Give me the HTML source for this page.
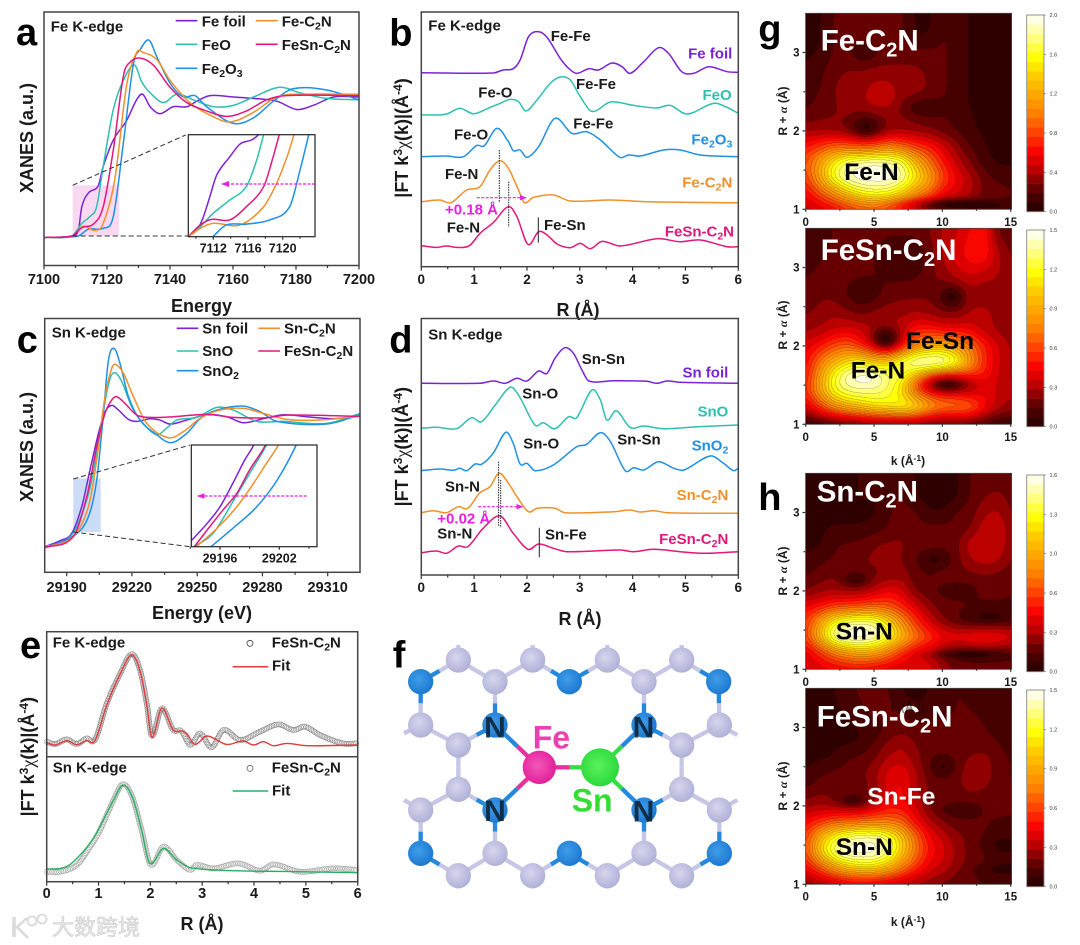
<!DOCTYPE html>
<html lang="en">
<head>
<meta charset="utf-8">
<title>XANES and EXAFS figure</title>
<style>
html,body{margin:0;padding:0;background:#fff;}
#root{position:relative;width:1080px;height:945px;overflow:hidden;background:#fff;filter:blur(.3px);}
canvas{position:absolute;display:block;}
svg{position:absolute;left:0;top:0;}
text{font-family:"Liberation Sans","Noto Sans CJK SC",sans-serif;font-weight:bold;fill:#1a1a1a;}
.tick{font-size:14.5px;text-anchor:middle;}
.ttl{font-size:18px;}
.lab{font-size:15px;}
.pl{font-size:38px;fill:#000;}
.mt{font-size:12px;}
.wt{font-size:29.5px;fill:#fff;}
.bt{font-size:24.5px;fill:#000;}
.cb{font-size:5.5px;font-weight:normal;fill:#333;}
</style>
</head>
<body>
<div id="root">
<canvas id="map-g1" width="412" height="392" style="left:805.5px;top:13.3px;width:206px;height:196px"></canvas>
<canvas id="map-g2" width="412" height="392" style="left:805.5px;top:228.3px;width:206px;height:196px"></canvas>
<canvas id="map-h1" width="412" height="392" style="left:805.5px;top:473.3px;width:206px;height:196px"></canvas>
<canvas id="map-h2" width="412" height="392" style="left:805.5px;top:688.3px;width:206px;height:196px"></canvas>

<svg id="fig" width="1080" height="945" viewBox="0 0 1080 945" xmlns="http://www.w3.org/2000/svg">
<defs>
<clipPath id="clip-a"><rect x="44" y="12" width="315" height="253.5"/></clipPath>
<clipPath id="clip-ai"><rect x="188.3" y="134.7" width="126.7" height="102"/></clipPath>
<clipPath id="clip-c"><rect x="44.7" y="318.5" width="315.3" height="253.8"/></clipPath>
<clipPath id="clip-ci"><rect x="191.3" y="445" width="125.7" height="101.7"/></clipPath>
<radialGradient id="g-c" cx=".42" cy=".4" r=".65"><stop offset="0" stop-color="#d6d6ee"/><stop offset="1" stop-color="#adaed6"/></radialGradient>
<radialGradient id="g-b" cx=".42" cy=".4" r=".65"><stop offset="0" stop-color="#3f9de8"/><stop offset="1" stop-color="#1a76cf"/></radialGradient>
<radialGradient id="g-f" cx=".45" cy=".45" r=".6"><stop offset="0" stop-color="#f458bb"/><stop offset="1" stop-color="#e01c98"/></radialGradient>
<radialGradient id="g-s" cx=".45" cy=".45" r=".6"><stop offset="0" stop-color="#5cf25c"/><stop offset="1" stop-color="#27d63a"/></radialGradient>
</defs>

<!-- Panel a -->
<g>
<rect x="72.7" y="185.3" width="46.3" height="50.7" fill="#f9d9f1"/>
<g id="a-curves" clip-path="url(#clip-a)"></g>
<line x1="72.7" y1="185.3" x2="185.7" y2="135" stroke="#333" stroke-width="1" stroke-dasharray="5 3"/>
<line x1="72.7" y1="236" x2="188" y2="236" stroke="#333" stroke-width="1" stroke-dasharray="5 3"/>
<rect x="44" y="12" width="315" height="253.5" fill="none" stroke="#444" stroke-width="1.5"/>
<g id="a-ticks"></g>
<text x="50.7" y="31.7" class="lab">Fe K-edge</text>
<text x="201.5" y="312" class="ttl" text-anchor="middle">Energy</text>
<text transform="translate(33 138) rotate(-90)" class="ttl" text-anchor="middle">XANES (a.u.)</text>
<g>
<line x1="175.7" x2="197.3" y1="20.7" y2="20.7" stroke="#7b22d8" stroke-width="1.6"/>
<text x="201.7" y="26.7" class="lab">Fe foil</text>
<line x1="255.7" x2="277.7" y1="20.7" y2="20.7" stroke="#f0902a" stroke-width="1.6"/>
<text x="281.7" y="26.7" class="lab">Fe-C<tspan dy="3" font-size="10.5">2</tspan><tspan dy="-3">N</tspan></text>
<line x1="175.7" x2="197.3" y1="44.3" y2="44.3" stroke="#2fbfb0" stroke-width="1.6"/>
<text x="201.7" y="50" class="lab">FeO</text>
<line x1="255.7" x2="277.7" y1="44.3" y2="44.3" stroke="#e0187c" stroke-width="1.6"/>
<text x="281.7" y="50" class="lab">FeSn-C<tspan dy="3" font-size="10.5">2</tspan><tspan dy="-3">N</tspan></text>
<line x1="175.7" x2="197.3" y1="68.3" y2="68.3" stroke="#1e90e6" stroke-width="1.6"/>
<text x="201.7" y="74" class="lab">Fe<tspan dy="3" font-size="10.5">2</tspan><tspan dy="-3">O</tspan><tspan dy="3" font-size="10.5">3</tspan></text>
</g>
<rect x="188.3" y="134.7" width="126.7" height="102" fill="#fff"/>
<g id="ai-curves" clip-path="url(#clip-ai)"></g>
<rect x="188.3" y="134.7" width="126.7" height="102" fill="none" stroke="#222" stroke-width="1.2"/>
<g id="ai-ticks"></g>
<line x1="315" y1="184" x2="226" y2="184" stroke="#e820e0" stroke-width="1.2" stroke-dasharray="3 1.5"/>
<polygon points="221,184 229,181 229,187" fill="#e820e0"/>
</g>

<!-- Panel b -->
<g>
<g id="b-curves"></g>
<rect x="421.3" y="12" width="317" height="254.7" fill="none" stroke="#444" stroke-width="1.5"/>
<g id="b-ticks"></g>
<text x="428.3" y="30.7" class="lab">Fe K-edge</text>
<text x="578" y="316" class="ttl" text-anchor="middle">R (Å)</text>
<text transform="translate(408 138) rotate(-90)" class="ttl" text-anchor="middle">|FT k<tspan dy="-6" font-size="12">3</tspan><tspan dy="6" font-family="Liberation Serif" font-weight="normal">χ</tspan>(k)|(Å<tspan dy="-6" font-size="12">-4</tspan><tspan dy="6">)</tspan></text>
<text x="550.7" y="41" class="lab">Fe-Fe</text>
<text x="732.3" y="58.7" class="lab" text-anchor="end" style="fill:#7b22d8">Fe foil</text>
<text x="576" y="89" class="lab">Fe-Fe</text>
<text x="478.3" y="97.3" class="lab">Fe-O</text>
<text x="731.7" y="100" class="lab" text-anchor="end" style="fill:#2fbfb0">FeO</text>
<text x="573.3" y="128.3" class="lab">Fe-Fe</text>
<text x="454" y="139.3" class="lab">Fe-O</text>
<text x="732.3" y="144.3" class="lab" text-anchor="end" style="fill:#1e90e6">Fe<tspan dy="3" font-size="10.5" style="fill:#1e90e6">2</tspan><tspan dy="-3" style="fill:#1e90e6">O</tspan><tspan dy="3" font-size="10.5" style="fill:#1e90e6">3</tspan></text>
<text x="445" y="179" class="lab">Fe-N</text>
<text x="732.3" y="187.7" class="lab" text-anchor="end" style="fill:#f0902a">Fe-C<tspan dy="3" font-size="10.5" style="fill:#f0902a">2</tspan><tspan dy="-3" style="fill:#f0902a">N</tspan></text>
<text x="445" y="214.7" class="lab" style="fill:#e820e0">+0.18 Å</text>
<text x="446.7" y="232.7" class="lab">Fe-N</text>
<text x="544" y="230" class="lab">Fe-Sn</text>
<text x="734" y="236.7" class="lab" text-anchor="end" style="fill:#e0187c">FeSn-C<tspan dy="3" font-size="10.5" style="fill:#e0187c">2</tspan><tspan dy="-3" style="fill:#e0187c">N</tspan></text>
<line x1="499.3" x2="499.3" y1="150" y2="202.7" stroke="#222" stroke-width="1" stroke-dasharray="1.5 1"/>
<line x1="508.7" x2="508.7" y1="181.7" y2="227.3" stroke="#222" stroke-width="1" stroke-dasharray="1.5 1"/>
<line x1="538.3" x2="538.3" y1="217.3" y2="242.7" stroke="#222" stroke-width="1"/>
<line x1="476.7" x2="523" y1="197.7" y2="197.7" stroke="#e820e0" stroke-width="1.2" stroke-dasharray="3 1.5"/>
<polygon points="527,197.7 520,195 520,200.4" fill="#e820e0"/>
</g>

<!-- Panel c -->
<g>
<rect x="73.3" y="478.3" width="27.4" height="53.7" fill="#cbdcf8"/>
<g id="c-curves" clip-path="url(#clip-c)"></g>
<line x1="73.3" y1="479" x2="190" y2="445" stroke="#333" stroke-width="1" stroke-dasharray="5 3"/>
<line x1="73.3" y1="532" x2="190" y2="546.7" stroke="#333" stroke-width="1" stroke-dasharray="5 3"/>
<rect x="44.7" y="318.5" width="315.3" height="253.8" fill="none" stroke="#444" stroke-width="1.5"/>
<g id="c-ticks"></g>
<text x="51.7" y="337.3" class="lab">Sn K-edge</text>
<text x="202" y="619" class="ttl" text-anchor="middle">Energy (eV)</text>
<text transform="translate(33 447) rotate(-90)" class="ttl" text-anchor="middle">XANES (a.u.)</text>
<g>
<line x1="176.7" x2="198.3" y1="328.3" y2="328.3" stroke="#7b22d8" stroke-width="1.6"/>
<text x="202.3" y="333.3" class="lab">Sn foil</text>
<line x1="258.3" x2="280" y1="328.3" y2="328.3" stroke="#f0902a" stroke-width="1.6"/>
<text x="284" y="333.3" class="lab">Sn-C<tspan dy="3" font-size="10.5">2</tspan><tspan dy="-3">N</tspan></text>
<line x1="176.7" x2="198.3" y1="351" y2="351" stroke="#2fbfb0" stroke-width="1.6"/>
<text x="202.3" y="356" class="lab">SnO</text>
<line x1="258.3" x2="280" y1="351" y2="351" stroke="#e0187c" stroke-width="1.6"/>
<text x="284" y="356" class="lab">FeSn-C<tspan dy="3" font-size="10.5">2</tspan><tspan dy="-3">N</tspan></text>
<line x1="176.7" x2="198.3" y1="370.7" y2="370.7" stroke="#1e90e6" stroke-width="1.6"/>
<text x="202.3" y="376" class="lab">SnO<tspan dy="3" font-size="10.5">2</tspan></text>
</g>
<rect x="191.3" y="445" width="125.7" height="101.7" fill="#fff"/>
<g id="ci-curves" clip-path="url(#clip-ci)"></g>
<rect x="191.3" y="445" width="125.7" height="101.7" fill="none" stroke="#222" stroke-width="1.2"/>
<g id="ci-ticks"></g>
<line x1="306.7" y1="496" x2="201" y2="496" stroke="#e820e0" stroke-width="1.2" stroke-dasharray="3 1.5"/>
<polygon points="196.7,496 204.5,493.2 204.5,498.8" fill="#e820e0"/>
</g>

<!-- Panel d -->
<g>
<g id="d-curves"></g>
<rect x="421.3" y="318.5" width="317" height="256.5" fill="none" stroke="#444" stroke-width="1.5"/>
<g id="d-ticks"></g>
<text x="428.3" y="339.3" class="lab">Sn K-edge</text>
<text x="580" y="625" class="ttl" text-anchor="middle">R (Å)</text>
<text transform="translate(408 446.7) rotate(-90)" class="ttl" text-anchor="middle">|FT k<tspan dy="-6" font-size="12">3</tspan><tspan dy="6" font-family="Liberation Serif" font-weight="normal">χ</tspan>(k)|(Å<tspan dy="-6" font-size="12">-4</tspan><tspan dy="6">)</tspan></text>
<text x="581.7" y="364" class="lab">Sn-Sn</text>
<text x="728.3" y="377.3" class="lab" text-anchor="end" style="fill:#7b22d8">Sn foil</text>
<text x="522.3" y="398.3" class="lab">Sn-O</text>
<text x="728.3" y="416.7" class="lab" text-anchor="end" style="fill:#2fbfb0">SnO</text>
<text x="523.3" y="448.3" class="lab">Sn-O</text>
<text x="617.3" y="444.3" class="lab">Sn-Sn</text>
<text x="728.3" y="450.7" class="lab" text-anchor="end" style="fill:#1e90e6">SnO<tspan dy="3" font-size="10.5" style="fill:#1e90e6">2</tspan></text>
<text x="445" y="491.7" class="lab">Sn-N</text>
<text x="728.3" y="500" class="lab" text-anchor="end" style="fill:#f0902a">Sn-C<tspan dy="3" font-size="10.5" style="fill:#f0902a">2</tspan><tspan dy="-3" style="fill:#f0902a">N</tspan></text>
<text x="437.3" y="523.3" class="lab" style="fill:#e820e0">+0.02 Å</text>
<text x="437.3" y="538.3" class="lab">Sn-N</text>
<text x="545" y="539.3" class="lab">Sn-Fe</text>
<text x="728.3" y="544" class="lab" text-anchor="end" style="fill:#e0187c">FeSn-C<tspan dy="3" font-size="10.5" style="fill:#e0187c">2</tspan><tspan dy="-3" style="fill:#e0187c">N</tspan></text>
<line x1="498.6" x2="498.6" y1="461.7" y2="526.7" stroke="#222" stroke-width="1" stroke-dasharray="1.5 1"/>
<line x1="500.7" x2="500.7" y1="480" y2="527.7" stroke="#222" stroke-width="1" stroke-dasharray="1.5 1"/>
<line x1="539.3" x2="539.3" y1="527.7" y2="557.3" stroke="#222" stroke-width="1"/>
<line x1="478.3" x2="520" y1="506.7" y2="506.7" stroke="#e820e0" stroke-width="1.2" stroke-dasharray="3 1.5"/>
<polygon points="523.5,506.7 516.5,504 516.5,509.4" fill="#e820e0"/>
</g>

<!-- Panel e -->
<g>
<g id="e-curves"></g>
<rect x="46.7" y="631.7" width="311" height="250" fill="none" stroke="#444" stroke-width="1.5"/>
<line x1="46.7" x2="357.7" y1="756.7" y2="756.7" stroke="#444" stroke-width="1.5"/>
<g id="e-ticks"></g>
<text x="52.7" y="647.7" class="lab">Fe K-edge</text>
<text x="52.7" y="772.7" class="lab">Sn K-edge</text>
<circle cx="250" cy="643.3" r="3" fill="none" stroke="#444" stroke-width=".8"/>
<text x="271.7" y="647.7" class="lab">FeSn-C<tspan dy="3" font-size="10.5">2</tspan><tspan dy="-3">N</tspan></text>
<line x1="232.7" x2="268.3" y1="666.7" y2="666.7" stroke="#e03a3a" stroke-width="1.5"/>
<text x="272" y="670.7" class="lab">Fit</text>
<circle cx="250" cy="768.3" r="3" fill="none" stroke="#666" stroke-width=".8"/>
<text x="271.7" y="772.7" class="lab">FeSn-C<tspan dy="3" font-size="10.5">2</tspan><tspan dy="-3">N</tspan></text>
<line x1="232.7" x2="268.3" y1="791" y2="791" stroke="#27b060" stroke-width="1.5"/>
<text x="272" y="795.7" class="lab">Fit</text>
<text x="202" y="930" class="ttl" text-anchor="middle">R (Å)</text>
<text transform="translate(34 756.7) rotate(-90)" class="ttl" text-anchor="middle">|FT k<tspan dy="-6" font-size="12">3</tspan><tspan dy="6" font-family="Liberation Serif" font-weight="normal">χ</tspan>(k)|(Å<tspan dy="-6" font-size="12">-4</tspan><tspan dy="6">)</tspan></text>
</g>

<!-- Panel f -->
<g>
<g id="f-model" transform="translate(380 630) scale(.33333)"></g>
<text x="495" y="737.3" text-anchor="middle" style="font-size:30px;fill:#0b2236" opacity=".88">N</text>
<text x="643.5" y="737.3" text-anchor="middle" style="font-size:30px;fill:#0b2236" opacity=".88">N</text>
<text x="495" y="821" text-anchor="middle" style="font-size:30px;fill:#0b2236" opacity=".88">N</text>
<text x="643.5" y="821.5" text-anchor="middle" style="font-size:30px;fill:#0b2236" opacity=".88">N</text>
<text x="532.7" y="748.3" style="font-size:32px;fill:#ee3fb2">Fe</text>
<text x="571.7" y="811.7" style="font-size:32px;fill:#35dc35">Sn</text>
</g>

<!-- Panels g and h -->
<g>
<g id="map-axes"></g>
<g id="map-bars"></g>
<text x="820.7" y="50.7" class="wt">Fe-C<tspan dy="6" font-size="20">2</tspan><tspan dy="-6">N</tspan></text>
<text x="844.3" y="180" class="bt">Fe-N</text>
<text x="820.7" y="260" class="wt">FeSn-C<tspan dy="6" font-size="20">2</tspan><tspan dy="-6">N</tspan></text>
<text x="906" y="349" class="bt">Fe-Sn</text>
<text x="850.7" y="378.3" class="bt">Fe-N</text>
<text x="816.7" y="501.7" class="wt">Sn-C<tspan dy="6" font-size="20">2</tspan><tspan dy="-6">N</tspan></text>
<text x="835.7" y="639.3" class="bt">Sn-N</text>
<text x="816.7" y="726.7" class="wt">FeSn-C<tspan dy="6" font-size="20">2</tspan><tspan dy="-6">N</tspan></text>
<text x="867.3" y="804.3" class="bt" style="fill:#fff">Sn-Fe</text>
<text x="835.7" y="855" class="bt">Sn-N</text>
<text x="908" y="711" class="mt" text-anchor="middle" style="fill:#000" opacity=".45">k (Å<tspan dy="-4" font-size="8.5" style="fill:#000">-1</tspan><tspan dy="4" style="fill:#000">)</tspan></text>
<text x="908" y="465" class="mt" text-anchor="middle">k (Å<tspan dy="-4" font-size="8.5">-1</tspan><tspan dy="4">)</tspan></text>
<text x="908" y="926" class="mt" text-anchor="middle">k (Å<tspan dy="-4" font-size="8.5">-1</tspan><tspan dy="4">)</tspan></text>
<text transform="translate(787 111) rotate(-90)" class="mt" text-anchor="middle">R + <tspan font-family="Liberation Serif" font-style="italic">α</tspan> (Å)</text>
<text transform="translate(787 325) rotate(-90)" class="mt" text-anchor="middle">R + <tspan font-family="Liberation Serif" font-style="italic">α</tspan> (Å)</text>
<text transform="translate(787 571) rotate(-90)" class="mt" text-anchor="middle">R + <tspan font-family="Liberation Serif" font-style="italic">α</tspan> (Å)</text>
<text transform="translate(787 786) rotate(-90)" class="mt" text-anchor="middle">R + <tspan font-family="Liberation Serif" font-style="italic">α</tspan> (Å)</text>
</g>

<!-- Panel letters -->
<text x="16" y="45" class="pl">a</text>
<text x="389.3" y="45.7" class="pl">b</text>
<text x="16.7" y="352.7" class="pl">c</text>
<text x="389.3" y="352.3" class="pl">d</text>
<text x="20" y="658" class="pl">e</text>
<text x="392.7" y="667.3" class="pl">f</text>
<text x="758.3" y="41.7" class="pl">g</text>
<text x="758.3" y="510" class="pl">h</text>

<!-- Watermark -->
<g opacity=".85">
<line x1="14" y1="917" x2="14" y2="937" stroke="#d4d4d4" stroke-width="3.5"/>
<path d="M16 928 L27 918 M18 928 L28 938" stroke="#d4d4d4" stroke-width="2.5" fill="none"/>
<circle cx="32" cy="921" r="4.5" fill="none" stroke="#d4d4d4" stroke-width="1.8"/>
<circle cx="42" cy="919" r="4.5" fill="none" stroke="#d4d4d4" stroke-width="1.8"/>
<text x="52" y="935" style="font-size:22px;font-weight:normal;fill:#e4e4e4;stroke:#c4c4c4;stroke-width:.6">大数跨境</text>
</g>
</svg>
</div>

<script>
/* ---------- Panel a: energy (eV), normalised absorption ---------- */
const feFoilXanes=[[7100,-.01],[7108.8,0],[7110.9,.04],[7112,.21],[7114.1,.31],[7117.2,.36],[7118.8,.5],[7122,.69],[7126.2,.83],[7129.4,.98],[7131.3,1.02],[7133.7,.93],[7136.8,.88],[7141,.93],[7145.3,.93],[7148.5,.97],[7152.7,1.01],[7160.1,1],[7166.5,.99],[7173.9,.97],[7180.2,.91],[7185.5,.94],[7191.9,1],[7200,1]];
const feOXanes=[[7100,-.01],[7108.8,0],[7112,.09],[7114.6,.14],[7116.7,.21],[7118.8,.5],[7122,.91],[7125.2,1.12],[7128.7,1.23],[7131,1.11],[7133.7,1.03],[7137.9,.96],[7142.1,1.02],[7147.4,.98],[7153.8,.93],[7160.1,.94],[7166.5,1],[7174.9,1.07],[7181.3,1.03],[7189.7,.99],[7200,.98]];
const fe2o3Xanes=[[7100,-.01],[7110.9,0],[7114.1,.05],[7118.8,.055],[7122,.14],[7125.2,.67],[7128.4,1.24],[7130.5,1.34],[7133.3,1.41],[7135.8,1.29],[7140,1.1],[7144.2,1],[7147.9,1.01],[7151.6,.93],[7160.1,.81],[7166.5,.85],[7172.8,.97],[7179.2,1.06],[7189.7,1.05],[7200,.98]];
const feC2nXanes=[[7100,-.01],[7108.8,0],[7112.5,.07],[7116.2,.04],[7118.8,.09],[7122.5,.41],[7126.2,1.08],[7129.4,1.32],[7131.5,1.32],[7135.8,1.27],[7140,1.12],[7146.3,.96],[7152.7,.87],[7159,.82],[7166.5,.89],[7173.9,1],[7181.3,1.02],[7200,1.02]];
const feSnXanes=[[7100,-.01],[7108.8,0],[7112,.06],[7115.7,.086],[7118.8,.21],[7122,.62],[7125.2,1.15],[7127.3,1.25],[7130.5,1.28],[7134.7,1.23],[7140,1.07],[7145.3,.96],[7151.6,.9],[7158,.86],[7164.3,.9],[7170.7,.98],[7177,1.01],[7200,1.01]];
const aTicksMajor=[7100,7120,7140,7160,7180,7200];
const aTicksMinor=[7110,7130,7150,7170,7190];

const feFoilInset=[[7109.1,0],[7110.1,.024],[7110.8,.066],[7111.6,.143],[7112.4,.221],[7113.9,.286],[7115.1,.332],[7116.4,.346],[7117.2,.365],[7118,.4]];
const feOInset=[[7109.1,0],[7110.5,.036],[7112,.084],[7113.9,.131],[7115.8,.179],[7117,.274],[7117.8,.365],[7118.3,.42]];
const feSnInset=[[7109.1,0],[7110.5,.042],[7111.8,.062],[7113.9,.06],[7115.8,.107],[7117.8,.179],[7118.9,.286],[7119.6,.365],[7120.1,.42]];
const feC2nInset=[[7109.1,0],[7110.5,.03],[7112,.048],[7115.1,.042],[7117.8,.107],[7119.3,.191],[7120.5,.286],[7121.3,.365],[7121.8,.42]];
const fe2o3Inset=[[7112,.002],[7113.5,.042],[7115.8,.045],[7118.5,.06],[7120.8,.107],[7122,.239],[7123,.365],[7123.5,.43]];
const aiTicksMajor=[7112,7116,7120];
const aiTicksMinor=[7110,7114,7118,7122];

/* ---------- Panel b: R (A), offset magnitude ---------- */
const feFoilFt=[[0,19.4],[1.36,19.37],[1.55,19.67],[1.74,19.8],[1.87,20.67],[2.03,23],[2.22,23.5],[2.38,22.93],[2.63,20.83],[2.79,19.83],[2.94,19.33],[3.17,19.8],[3.35,19.67],[3.61,20.37],[3.8,20],[3.95,19.33],[4.21,20.5],[4.49,21.9],[4.68,21.33],[4.93,19.5],[5.15,19.33],[5.44,20],[5.79,19.5],[6,19.43]];
const feOFt=[[0,15.2],[.23,15.17],[.48,15.27],[.73,15.83],[.99,15.3],[1.3,15.93],[1.49,16.33],[1.68,16.73],[1.84,16.5],[1.98,15.57],[2.19,16.67],[2.44,18.33],[2.63,18.97],[2.82,18.67],[3.01,17],[3.23,15.53],[3.58,16.47],[4.02,16.13],[4.46,15.87],[4.71,16.13],[5.03,15.27],[5.53,16.33],[5.79,15.93],[6,15.33]];
const fe2o3Ft=[[0,11],[.48,11.07],[.8,11],[1.05,12.13],[1.19,12.07],[1.43,13.83],[1.65,12.5],[1.74,11.6],[1.87,11.67],[2,10.93],[2.22,12],[2.53,14.83],[2.85,13.33],[3.13,13.5],[3.39,12.67],[3.76,10.93],[3.92,11.17],[4.14,11.07],[4.59,11.67],[4.9,11.67],[5.28,11.17],[6,11]];
const feC2nFt=[[0,6.5],[.35,6.67],[.56,6.4],[.86,7.67],[1.11,8],[1.3,9.67],[1.49,10.6],[1.65,9.83],[1.84,7.67],[1.95,6.4],[2.12,6.93],[2.5,7.17],[2.82,6.57],[3.58,6.67],[4.27,6.5],[6,6.4]];
const feSnFt=[[0,2.1],[.29,1.93],[.48,2.07],[.67,1.93],[.91,2.1],[1.11,3.33],[1.36,4.4],[1.65,6],[1.81,5],[2.02,2.23],[2.22,3.5],[2.38,3.17],[2.57,2.27],[2.82,1.9],[3.01,2.33],[3.2,1.8],[3.42,2.53],[3.77,2.07],[4.46,2.8],[4.9,2.5],[5.28,2.67],[5.79,2],[6,2]];
const rTicksMajor=[0,1,2,3,4,5,6];
const rTicksMinor=[.5,1.5,2.5,3.5,4.5,5.5];

/* ---------- Panel c ---------- */
const snFoilXanes=[[29180,0],[29187,.045],[29192.3,.1],[29196.9,.3],[29200.7,.575],[29204.6,.85],[29207.6,1.01],[29210.7,1.06],[29213.8,1.025],[29218.4,.955],[29222.2,.94],[29228.3,.96],[29232.9,.95],[29237.5,.92],[29245.2,.95],[29254.4,.99],[29263.6,.975],[29271.2,.93],[29280.4,.96],[29289.6,.99],[29300.3,.975],[29312.6,.96],[29325,.98]];
const snOXanes=[[29180,-.005],[29192.3,.0875],[29199.2,.35],[29203,.625],[29206.9,1.025],[29209.9,1.26],[29212.2,1.305],[29215.3,1.24],[29219.9,1.05],[29225.2,.925],[29231.4,.84],[29236,.89],[29240.6,.95],[29249.8,.97],[29259,1.045],[29266.6,1.025],[29277.4,.94],[29289.6,.94],[29309.5,.925],[29325,1]];
const snO2Xanes=[[29180,-.0075],[29193.8,.0875],[29200,.225],[29203.8,.5],[29206.9,1],[29209.2,1.4],[29211.8,1.4875],[29214.5,1.375],[29218.4,1.125],[29223.7,.95],[29231.4,.84],[29237.8,.78],[29245.2,.85],[29251.3,.96],[29259,1.025],[29271.2,1.055],[29278.9,1.0125],[29286.6,.94],[29309.5,.92],[29325,.99]];
const snC2nXanes=[[29180,-.005],[29193,.075],[29200,.3],[29203.8,.65],[29207.6,1.125],[29210.7,1.3375],[29212.5,1.3675],[29216.1,1.3],[29220.7,1.125],[29226.8,.925],[29236.7,.8175],[29243.6,.8625],[29251.3,.9625],[29260.5,1.025],[29271.2,1.0375],[29280.4,1],[29291.1,.955],[29306.5,.95],[29325,.98]];
const feSnSnXanes=[[29180,-.0075],[29193,.075],[29199.2,.375],[29203.8,.75],[29207.6,1],[29210.7,1.1],[29213,1.125],[29216.8,1.075],[29222.2,.9875],[29228.3,.97],[29239,.975],[29254.4,.9925],[29266.6,.97],[29281.9,.9675],[29291.1,.9875],[29325,.9775]];
const cTicksMajor=[29190,29220,29250,29280,29310];
const cTicksMinor=[29205,29235,29265,29295];

const snFoilInset=[[29192.5,.11],[29193.1,.134],[29194.7,.202],[29196,.268],[29197.3,.361],[29198.5,.453],[29199.4,.512],[29199.8,.56]];
const feSnSnInset=[[29193.4,.11],[29194.7,.176],[29196.3,.255],[29197.7,.321],[29199,.414],[29200.6,.512],[29201,.56]];
const snOInset=[[29193.4,.11],[29195.3,.163],[29197.3,.288],[29199,.4],[29200.7,.512],[29201.1,.56]];
const snC2nInset=[[29193.6,.11],[29195.7,.183],[29197.7,.268],[29199.4,.361],[29200.7,.44],[29201.9,.512],[29202.3,.56]];
const snO2Inset=[[29195.1,.11],[29197.3,.183],[29199.4,.255],[29201.1,.334],[29202.4,.414],[29203.7,.512],[29204.1,.56]];
const ciTicksMajor=[29196,29202];
const ciTicksMinor=[29193,29199,29205];

/* ---------- Panel d ---------- */
const snFoilFt=[[0,19.17],[1.11,19.17],[1.37,19.4],[1.59,19.17],[1.81,19.67],[2,19.4],[2.22,20.4],[2.38,20.17],[2.53,21.67],[2.72,22.73],[2.88,22.17],[3.04,20.5],[3.17,19.4],[3.64,19.43],[4.27,19.37],[4.46,19.17],[4.65,19.4],[4.9,19.27],[6,19.17]];
const snOFt=[[0,14.67],[.29,14.77],[.67,14.63],[.95,15.73],[1.14,15.33],[1.4,17],[1.68,18.77],[1.84,18],[2.15,15],[2.31,15.23],[2.53,14.63],[2.79,15.83],[2.94,15.73],[3.23,18.5],[3.39,17.5],[3.51,15.5],[3.69,16.43],[3.95,14.77],[4.21,14.9],[4.59,14.63],[5.22,14.83],[6,15]];
const snO2Ft=[[0,10.43],[.35,10.6],[.61,10.47],[.73,10.67],[.86,10.43],[1.02,11.1],[1.14,11.07],[1.36,12.17],[1.6,14.27],[1.74,13.17],[1.87,11.1],[2,11.17],[2.15,10.43],[2.5,11],[2.94,12.83],[3.13,13.07],[3.39,14.23],[3.58,13.33],[3.86,10.43],[4.02,10.73],[4.21,10.5],[4.49,11.33],[4.78,10.67],[4.97,10.5],[5.47,11.9],[5.72,11.17],[5.91,10.43],[6,10.67]];
const snC2nFt=[[0,6.23],[.23,6.43],[.48,6.23],[.7,6.83],[.88,6.67],[1.11,8.23],[1.3,8.83],[1.47,10.17],[1.65,9.17],[1.81,7.83],[2.03,6.33],[2.19,6.67],[2.53,6.67],[2.72,6.23],[3.64,6.33],[3.95,6.5],[4.14,6.3],[4.4,6.43],[4.65,6.23],[6,6.17]];
const feSnSnFt=[[0,2.23],[.29,2.4],[.48,2.17],[.7,2.9],[.88,2.83],[1.17,4.67],[1.49,5.9],[1.74,4.17],[2.02,2.57],[2.22,3.1],[2.5,2.67],[2.76,2.33],[3.77,2.5],[4.02,2.33],[4.4,2.57],[4.9,2.33],[5.34,2.17],[6,2.33]];

/* ---------- Panel e ---------- */
const feData=[[0,1.5],[.16,1.27],[.39,1.73],[.58,1.27],[.77,1.83],[.93,1.67],[1.16,5.33],[1.42,8.33],[1.64,10.27],[1.8,8.67],[1.93,5.33],[2.03,2.07],[2.22,4.83],[2.44,2.67],[2.6,2.57],[2.77,1.17],[2.96,2.33],[3.18,.93],[3.41,2.67],[3.73,1.67],[4.11,2.5],[4.47,3.23],[4.76,2.67],[4.98,3],[5.27,2.17],[5.72,1.33],[6,1.33]];
const feFit=[[0,1.4],[.16,1.17],[.39,1.6],[.58,1.2],[.77,1.6],[.93,1.6],[1.16,5.2],[1.42,8.3],[1.64,10.2],[1.8,8.6],[1.93,5.2],[2.03,1.93],[2.22,4.87],[2.44,2.67],[2.6,2.57],[2.7,2.33],[2.86,1.23],[3.09,2.07],[3.47,1.23],[3.79,1.57],[3.99,1.17],[4.18,1.5],[4.37,1.1],[4.63,1.33],[5.02,1.1],[6,1.17]];
const snData=[[0,1],[.26,1],[.58,1.67],[.84,3.5],[1.03,5.17],[1.29,8.17],[1.47,9.77],[1.65,8.5],[1.83,5.17],[2.01,1.67],[2.25,3.5],[2.51,2.17],[2.77,1.17],[2.89,1.67],[3.22,1.33],[3.7,1.83],[4.12,1.1],[4.37,1.73],[4.89,1],[5.53,1.33],[6,1.17]];
const snFit=[[0,1.27],[.26,1.33],[.48,1.83],[.9,4.33],[1.29,8.17],[1.47,9.67],[1.65,8.5],[1.83,5.17],[1.99,1.83],[2.25,3.33],[2.51,2.17],[2.77,1.4],[3.6,1.1],[4.57,1.03],[6,.9]];

/* ---------- Panels g, h: contour fields (percent of colourbar max) ---------- */
const kGrid=[0,1,2,3,4,5,6,7,8,9,10,11,12,13,14,15];
const rGrid=[3.6,3.4,3.2,3.0,2.8,2.6,2.4,2.2,2.0,1.8,1.6,1.4,1.2,1.0];
const feC2nField=[
[4,4,9,11,12,12,12,10,4,4,9,8,4,3,3,3],
[4,4,10,12,12,12,12,10,4,4,9,8,4,3,3,3],
[4,4,10,12,12,12,12,10,5,5,10,8,4,3,3,3],
[4,5,10,11,11,12,12,12,11,11,10,8,4,3,3,3],
[5,8,12,14,14,15,15,15,15,13,10,8,4,3,3,3],
[5,9,14,16,17,20,20,17,16,14,10,8,4,3,3,3],
[7,11,14,16,18,22,23,16,15,13,10,8,4,3,3,3],
[11,13,14,15,15,16,16,15,13,11,10,8,5,3,3,3],
[18,18,17,16,16,17,18,18,17,15,12,9,6,4,3,3],
[32,38,44,44,42,44,50,46,38,33,25,16,9,5,3,3],
[42,58,75,88,92,94,92,85,65,48,33,22,14,7,4,4],
[40,60,82,95,100,100,100,92,75,58,40,28,20,12,8,7],
[30,42,55,68,78,82,80,70,55,45,30,25,20,13,12,10],
[22,25,30,36,42,44,40,33,28,18,10,10,10,9,8,7]];
const feSnFeField=[
[6,6,10,12,12,12,10,10,10,14,20,22,28,32,14,12],
[6,6,10,12,12,12,10,10,10,14,20,24,30,33,14,12],
[7,8,11,12,12,9,5,5,6,12,20,26,32,34,20,13],
[8,10,12,13,12,10,5,5,6,12,18,24,28,26,20,15],
[10,12,14,12,12,11,10,10,11,14,14,18,20,18,18,15],
[11,14,14,13,12,12,13,14,14,14,14,14,18,18,18,16],
[14,16,18,16,14,16,18,18,20,18,16,16,20,20,18,16],
[18,20,24,26,24,22,24,24,33,34,30,30,28,22,18,16],
[26,32,40,44,36,32,30,36,52,60,62,58,48,34,24,18],
[30,48,62,72,76,68,70,84,94,97,95,80,55,36,25,18],
[34,58,80,95,100,98,88,85,72,62,55,50,42,34,24,18],
[36,58,78,86,88,88,85,75,58,50,46,42,32,30,24,20],
[24,36,50,58,64,70,72,76,70,55,46,46,44,30,20,16],
[3,6,8,10,12,14,15,15,14,13,12,12,10,8,5,4]];
const snC2nField=[
[4,4,4,4,5,5,6,10,4,3,3,4,10,11,12,12],
[4,4,4,4,5,5,7,10,4,3,3,4,10,11,12,12],
[4,4,4,4,5,5,8,10,5,3,3,4,10,14,16,12],
[4,4,4,4,4,4,9,11,10,5,5,10,12,18,20,14],
[4,4,5,5,5,7,10,13,11,11,11,11,14,22,23,16],
[4,4,9,10,11,14,15,15,11,11,11,13,22,23,23,16],
[5,8,10,11,14,15,16,14,11,11,9,13,19,22,20,14],
[9,12,14,14,13,14,15,17,11,9,11,12,13,14,13,11],
[14,17,19,17,18,22,28,24,14,11,12,12,11,12,12,11],
[28,32,38,40,42,44,42,35,25,16,11,10,9,8,8,7],
[38,58,78,88,90,88,74,55,38,25,16,11,9,9,10,10],
[40,65,90,100,100,96,82,64,48,38,30,28,30,32,30,26],
[26,36,48,56,60,58,48,36,26,22,14,10,10,10,10,10],
[24,26,28,30,30,28,26,24,26,26,18,12,10,10,10,10]];
const feSnSnField=[
[4,4,4,9,10,10,10,4,4,5,5,10,5,5,5,5],
[4,4,4,8,10,10,10,5,4,5,5,10,8,5,5,5],
[4,4,4,5,9,11,11,9,6,7,8,10,10,8,5,5],
[4,4,4,4,5,6,11,12,11,11,11,11,11,10,6,5],
[4,4,4,4,5,10,15,18,14,11,10,11,12,12,10,6],
[4,4,5,9,11,14,20,22,16,12,13,13,15,16,12,9],
[5,9,11,12,13,18,26,28,20,13,13,14,18,18,11,9],
[10,13,12,13,12,16,26,30,20,13,12,13,15,14,11,10],
[17,19,17,16,16,22,30,30,24,13,12,13,11,11,11,10],
[30,36,42,44,46,48,48,44,30,20,14,11,10,10,9,9],
[40,62,78,88,92,92,84,68,46,30,22,16,13,10,8,8],
[42,68,88,98,100,98,88,68,48,32,25,18,13,11,7,7],
[30,42,56,66,70,70,62,48,36,26,22,16,12,9,6,6],
[15,19,22,26,28,26,24,22,18,16,13,11,10,9,8,8]];
/* local intensity minima: k, R, depth, k width, R width */
const feC2nMinima=[[4.4,2.05,.75,.8,.1],[8.6,2.3,.55,1,.09],[4.3,3,.45,.7,.1],[11.5,1.05,.85,2.5,.05]];
const feSnFeMinima=[[5.8,2.1,.88,.75,.11],[4.1,2.69,.55,.9,.13],[10.6,2.62,.75,.65,.1],[10.3,1.5,.85,1.5,.1]];
const snC2nMinima=[[3.6,2.15,.6,.7,.07],[9.3,2.4,.6,.75,.08],[11,2,.6,.9,.07],[13.4,1.66,.6,1.1,.06],[12,1.18,.8,1.6,.04]];
const feSnSnMinima=[[3.4,2.07,.55,.7,.06],[10,2.5,.65,.7,.11],[11.2,1.95,.6,.9,.07],[14.5,1.5,.5,1.2,.1],[14.5,1.18,.45,1.5,.06]];
const barLabelsG1=["0.0","0.4","0.8","1.2","1.6","2.0"];
const barLabelsG2=["0.0","0.3","0.6","0.9","1.2","1.5"];
const barLabelsH1=["0.0","0.3","0.6","1.0","1.3","1.6"];
const barLabelsH2=["0.0","0.3","0.6","0.9","1.2","1.5"];
const mapKTicks=[0,5,10,15];
const mapKMinor=[2.5,7.5,12.5];
const mapRTicks=[1,2,3];
const mapRMinor=[1.5,2.5];
const colorBands=21;

/* ---------- Panel f: atomic model ---------- */
const atomList=[[235,90,'c'],[458,90,'c'],[682,90,'c'],[905,90,'c'],[122,155,'b'],[345,155,'c'],[568,155,'b'],[792,155,'c'],[1016,155,'b'],[122,285,'c'],[345,285,'b'],[792,285,'b'],[1018,285,'c'],[235,345,'c'],[905,345,'c'],[235,478,'c'],[905,478,'c'],[122,540,'c'],[345,540,'b'],[792,540,'b'],[1018,540,'c'],[122,670,'b'],[345,670,'c'],[568,670,'b'],[792,670,'c'],[1018,670,'b'],[235,737,'c'],[458,737,'c'],[682,737,'c'],[905,737,'c'],[478,412,'f'],[660,412,'s']];
const bondList=[[4,0],[0,5],[5,1],[1,6],[6,2],[2,7],[7,3],[3,8],[4,9],[5,10],[7,11],[8,12],[9,13],[13,10],[11,14],[14,12],[13,15],[14,16],[15,17],[15,18],[19,16],[16,20],[17,21],[18,22],[19,24],[20,25],[21,26],[26,22],[22,27],[27,23],[23,28],[28,24],[24,29],[29,25],[10,30],[18,30],[30,31],[31,11],[31,19]];
const bondStubs=[[9,72,310],[12,1072,315],[17,72,510],[20,1072,510],[0,235,45],[1,458,45],[2,682,45],[3,905,45],[26,235,775],[27,458,775],[28,682,775],[29,905,775]];

/* ---------- helpers ---------- */
const NS='http://www.w3.org/2000/svg';
function linear(d0,d1,r0,r1){return function(v){return r0+(v-d0)/(d1-d0)*(r1-r0);};}
function smoothPath(pts,xs,ys){
  const p=pts.map(function(q){return [xs(q[0]),ys(q[1])];});
  const n=p.length;
  const m=p.map(function(q,i){
    if(i===0)return (p[1][1]-p[0][1])/(p[1][0]-p[0][0]);
    if(i===n-1)return (p[n-1][1]-p[n-2][1])/(p[n-1][0]-p[n-2][0]);
    return (p[i+1][1]-p[i-1][1])/(p[i+1][0]-p[i-1][0]);
  });
  let d='M'+p[0][0].toFixed(2)+' '+p[0][1].toFixed(2);
  for(let i=0;i<n-1;i++){
    const dx=(p[i+1][0]-p[i][0])/3;
    d+='C'+(p[i][0]+dx).toFixed(2)+' '+(p[i][1]+m[i]*dx).toFixed(2)+' '+(p[i+1][0]-dx).toFixed(2)+' '+(p[i+1][1]-m[i+1]*dx).toFixed(2)+' '+p[i+1][0].toFixed(2)+' '+p[i+1][1].toFixed(2);
  }
  return d;
}
function addCurve(parentId,pts,xs,ys,color,name,w){
  const el=document.createElementNS(NS,'path');
  el.setAttribute('d',smoothPath(pts,xs,ys));
  el.setAttribute('fill','none');
  el.setAttribute('stroke',color);
  el.setAttribute('stroke-width',w||1.5);
  el.setAttribute('stroke-linejoin','round');
  
  
  document.getElementById(parentId).appendChild(el);
  return el;
}
function addTick(parentId,x1,y1,x2,y2,stroke,sw){
  const el=document.createElementNS(NS,'line');
  el.setAttribute('x1',x1);el.setAttribute('y1',y1);el.setAttribute('x2',x2);el.setAttribute('y2',y2);
  el.setAttribute('stroke',stroke||'#333');
  el.setAttribute('stroke-width',sw||1.2);
  
  
  document.getElementById(parentId).appendChild(el);
}
function addLabel(parentId,x,y,str,size,anchor){
  const el=document.createElementNS(NS,'text');
  el.setAttribute('x',x);el.setAttribute('y',y);
  el.setAttribute('font-size',size);
  el.setAttribute('text-anchor',anchor||'middle');
  
  
  el.textContent=str;
  document.getElementById(parentId).appendChild(el);
}
function xAxis(parentId,major,minor,xs,y0,labelY,size,mlen,nlen){
  major.forEach(function(v){
    addTick(parentId,xs(v),y0,xs(v),y0+mlen);
    addLabel(parentId,xs(v),labelY,String(v),size);
  });
  minor.forEach(function(v){addTick(parentId,xs(v),y0,xs(v),y0+nlen);});
}

/* ---------- colours ---------- */
const PURPLE='#7b22d8',TEAL='#2fbfb0',BLUE='#1e90e6',ORANGE='#f0902a',MAG='#e0187c';

/* ---------- panel a ---------- */
const aX=linear(7100,7200,44,359),aY=linear(0,1,236,97);
addCurve('a-curves',feFoilXanes,aX,aY,PURPLE,'curve-fe-foil');
addCurve('a-curves',feOXanes,aX,aY,TEAL,'curve-feo');
addCurve('a-curves',fe2o3Xanes,aX,aY,BLUE,'curve-fe2o3');
addCurve('a-curves',feC2nXanes,aX,aY,ORANGE,'curve-fe-c2n');
addCurve('a-curves',feSnXanes,aX,aY,MAG,'curve-fesn-c2n');
xAxis('a-ticks',aTicksMajor,aTicksMinor,aX,265.5,284,14.5,4,2.5);
const aiX=linear(7112,7116,213.3,248),aiY=linear(0,.365,236.7,134.7);
addCurve('ai-curves',feFoilInset,aiX,aiY,PURPLE,'inset-curve-fe-foil');
addCurve('ai-curves',feOInset,aiX,aiY,TEAL,'inset-curve-feo');
addCurve('ai-curves',feSnInset,aiX,aiY,MAG,'inset-curve-fesn-c2n');
addCurve('ai-curves',feC2nInset,aiX,aiY,ORANGE,'inset-curve-fe-c2n');
addCurve('ai-curves',fe2o3Inset,aiX,aiY,BLUE,'inset-curve-fe2o3');
xAxis('ai-ticks',aiTicksMajor,aiTicksMinor,aiX,236.7,252.3,12.5,3,2);

/* ---------- panel b ---------- */
const bX=linear(0,6,421.3,738.3),bY=linear(0,10,266.7,166.7);
addCurve('b-curves',feFoilFt,bX,bY,PURPLE,'ft-curve-fe-foil');
addCurve('b-curves',feOFt,bX,bY,TEAL,'ft-curve-feo');
addCurve('b-curves',fe2o3Ft,bX,bY,BLUE,'ft-curve-fe2o3');
addCurve('b-curves',feC2nFt,bX,bY,ORANGE,'ft-curve-fe-c2n');
addCurve('b-curves',feSnFt,bX,bY,MAG,'ft-curve-fesn-c2n');
xAxis('b-ticks',rTicksMajor,rTicksMinor,bX,266.7,284,13.5,4,2.5);

/* ---------- panel c ---------- */
const cX=linear(29190,29310,66.7,327.7),cY=linear(0,1,546.7,413.4);
addCurve('c-curves',snFoilXanes,cX,cY,PURPLE,'curve-sn-foil');
addCurve('c-curves',snOXanes,cX,cY,TEAL,'curve-sno');
addCurve('c-curves',snO2Xanes,cX,cY,BLUE,'curve-sno2');
addCurve('c-curves',snC2nXanes,cX,cY,ORANGE,'curve-sn-c2n');
addCurve('c-curves',feSnSnXanes,cX,cY,MAG,'curve-fesn-c2n-sn');
xAxis('c-ticks',cTicksMajor,cTicksMinor,cX,572.3,592,14.5,4,2.5);
const ciX=linear(29196,29202,220,279.3),ciY=linear(.11,.5125,546.7,445);
addCurve('ci-curves',snFoilInset,ciX,ciY,PURPLE,'inset-curve-sn-foil');
addCurve('ci-curves',snOInset,ciX,ciY,TEAL,'inset-curve-sno');
addCurve('ci-curves',feSnSnInset,ciX,ciY,MAG,'inset-curve-fesn-c2n-sn');
addCurve('ci-curves',snC2nInset,ciX,ciY,ORANGE,'inset-curve-sn-c2n');
addCurve('ci-curves',snO2Inset,ciX,ciY,BLUE,'inset-curve-sno2');
xAxis('ci-ticks',ciTicksMajor,ciTicksMinor,ciX,546.7,562.3,12.5,3,2);

/* ---------- panel d ---------- */
const dX=linear(0,6,421.3,738.3),dY=linear(0,10,575,475);
addCurve('d-curves',snFoilFt,dX,dY,PURPLE,'ft-curve-sn-foil');
addCurve('d-curves',snOFt,dX,dY,TEAL,'ft-curve-sno');
addCurve('d-curves',snO2Ft,dX,dY,BLUE,'ft-curve-sno2');
addCurve('d-curves',snC2nFt,dX,dY,ORANGE,'ft-curve-sn-c2n');
addCurve('d-curves',feSnSnFt,dX,dY,MAG,'ft-curve-fesn-c2n-sn');
xAxis('d-ticks',rTicksMajor,rTicksMinor,dX,575,592,13.5,4,2.5);

/* ---------- panel e ---------- */
const eX=linear(0,6,46.7,357.7),eY1=linear(0,10,756.7,656.7),eY2=linear(0,10,881.7,781.7);
function addMarkers(pts,ys,stroke,name){
  const guide=document.createElementNS(NS,'path');
  guide.setAttribute('d',smoothPath(pts,eX,ys));
  const len=guide.getTotalLength();
  for(let s=0;s<=len;s+=1.8){
    const q=guide.getPointAtLength(s);
    const el=document.createElementNS(NS,'circle');
    el.setAttribute('cx',q.x.toFixed(1));
    el.setAttribute('cy',q.y.toFixed(1));
    el.setAttribute('r',2.6);
    el.setAttribute('fill','none');
    el.setAttribute('stroke',stroke);
    el.setAttribute('stroke-width',.4);
    
    
    document.getElementById('e-curves').appendChild(el);
  }
}
addMarkers(feData,eY1,'#666','fe-data-point');
addMarkers(snData,eY2,'#888','sn-data-point');
addCurve('e-curves',feFit,eX,eY1,'#e03a3a','fit-curve-fe',1.4);
addCurve('e-curves',snFit,eX,eY2,'#27b060','fit-curve-sn',1.4);
xAxis('e-ticks',rTicksMajor,rTicksMinor,eX,881.7,898,14.5,4,2.5);

/* ---------- panel f ---------- */
const atomRadius={c:38,b:38,f:50,s:57};
const atomColor={c:'#c6c6e6',b:'#2488de',f:'#e8309f',s:'#33dd44'};
const atomFill={c:'url(#g-c)',b:'url(#g-b)',f:'url(#g-f)',s:'url(#g-s)'};
function addBondHalf(x1,y1,x2,y2,color){
  const el=document.createElementNS(NS,'line');
  el.setAttribute('x1',x1);el.setAttribute('y1',y1);el.setAttribute('x2',x2);el.setAttribute('y2',y2);
  el.setAttribute('stroke',color);
  el.setAttribute('stroke-width',13);
  
  
  document.getElementById('f-model').appendChild(el);
}
bondStubs.forEach(function(s){
  const a=atomList[s[0]];
  addBondHalf(a[0],a[1],s[1],s[2],atomColor[a[2]]);
});
bondList.forEach(function(b){
  const a=atomList[b[0]],c=atomList[b[1]];
  const mx=(a[0]+c[0])/2,my=(a[1]+c[1])/2;
  addBondHalf(a[0],a[1],mx,my,atomColor[a[2]]);
  addBondHalf(mx,my,c[0],c[1],atomColor[c[2]]);
});
atomList.forEach(function(a){
  const el=document.createElementNS(NS,'circle');
  el.setAttribute('cx',a[0]);
  el.setAttribute('cy',a[1]);
  el.setAttribute('r',atomRadius[a[2]]);
  el.setAttribute('fill',atomFill[a[2]]);
  
  
  document.getElementById('f-model').appendChild(el);
});

/* ---------- panels g, h ---------- */
const cmapStops=[[0,36,0,0],[.1,84,0,0],[.2,176,0,0],[.3,250,0,0],[.4,255,64,0],[.5,255,128,0],[.6,255,168,0],[.7,255,208,0],[.78,255,255,0],[.9,255,255,144],[1,255,255,255]];
function cmap(f){
  f=Math.max(0,Math.min(1,f));
  for(let i=1;i<cmapStops.length;i++){
    if(f<=cmapStops[i][0]){
      const a=cmapStops[i-1],b=cmapStops[i],t=(f-a[0])/(b[0]-a[0]);
      return [a[1]+(b[1]-a[1])*t,a[2]+(b[2]-a[2])*t,a[3]+(b[3]-a[3])*t];
    }
  }
  return [255,255,255];
}
/* blend of interpolating and smoothing cubic kernels */
function cr(a,b,c,d,t){
  const i=.5*(2*b+(c-a)*t+(2*a-5*b+4*c-d)*t*t+(3*b-a-3*c+d)*t*t*t);
  const u=1-t;
  const s=(u*u*u*a+(3*t*t*t-6*t*t+4)*b+(-3*t*t*t+3*t*t+3*t+1)*c+t*t*t*d)/6;
  return .4*i+.6*s;
}
function sampleField(g,u,v){
  const rows=g.length,cols=g[0].length;
  const iu=Math.max(0,Math.min(cols-2,Math.floor(u))),iv=Math.max(0,Math.min(rows-2,Math.floor(v)));
  const tu=u-iu,tv=v-iv,vals=[];
  for(let j=-1;j<=2;j++){
    const row=g[Math.max(0,Math.min(rows-1,iv+j))];
    vals.push(cr(row[Math.max(0,iu-1)],row[iu],row[iu+1],row[Math.min(cols-1,iu+2)],tu));
  }
  return cr(vals[0],vals[1],vals[2],vals[3],tv);
}
function drawMap(id,field,minima){
  const cv=document.getElementById(id),ctx=cv.getContext('2d'),W=cv.width,H=cv.height;
  const img=ctx.createImageData(W,H);
  const uOf=linear(0,W-1,kGrid[0],kGrid[kGrid.length-1]);
  const rOf=linear(0,H-1,3.5,1);
  const vOf=linear(rGrid[0],rGrid[rGrid.length-1],0,rGrid.length-1);
  const band=new Int16Array(W*H);
  for(let y=0;y<H;y++){
    const R=rOf(y),v=vOf(R);
    for(let x=0;x<W;x++){
      const k=uOf(x);
      let f=sampleField(field,k,v)/100;
      minima.forEach(function(d){
        const a=(k-d[0])/d[3],b=(R-d[1])/d[4];
        f*=1-d[2]*Math.exp(-.5*(a*a+b*b));
      });
      band[y*W+x]=Math.max(0,Math.min(colorBands-1,Math.floor(f*colorBands)));
    }
  }
  for(let y=0;y<H;y++){
    for(let x=0;x<W;x++){
      const b=band[y*W+x];
      const c=cmap((b+.5)/colorBands);
      let a=1;
      const bR=x<W-1?band[y*W+x+1]:b,bD=y<H-1?band[(y+1)*W+x]:b;
      if(bR!==b||bD!==b)a=b>=7?.72:.9;
      const o=(y*W+x)*4;
      img.data[o]=c[0]*a;img.data[o+1]=c[1]*a;img.data[o+2]=c[2]*a;img.data[o+3]=255;
    }
  }
  ctx.putImageData(img,0,0);
}
drawMap('map-g1',feC2nField,feC2nMinima);
drawMap('map-g2',feSnFeField,feSnFeMinima);
drawMap('map-h1',snC2nField,snC2nMinima);
drawMap('map-h2',feSnSnField,feSnSnMinima);

const mapX=linear(0,15,805.7,1010.7);
function mapAxes(top,labelY){
  const bottom=top+196;
  const yS=linear(1,3.5,bottom,top);
  const fr=document.createElementNS(NS,'rect');
  fr.setAttribute('x',805.5);fr.setAttribute('y',top);fr.setAttribute('width',206);fr.setAttribute('height',196);
  fr.setAttribute('fill','none');fr.setAttribute('stroke','#444');fr.setAttribute('stroke-width',.8);
  
  
  document.getElementById('map-axes').appendChild(fr);
  xAxis('map-axes',mapKTicks,mapKMinor,mapX,bottom,labelY,11.5,2.5,1.5);
  mapRTicks.forEach(function(r){
    addTick('map-axes',805.5,yS(r),802.5,yS(r));
    addLabel('map-axes',799.5,yS(r)+4,String(r),11.5,'end');
  });
  mapRMinor.forEach(function(r){addTick('map-axes',805.5,yS(r),803.5,yS(r));});
}
mapAxes(13.3,226);
mapAxes(228.3,441);
mapAxes(473.3,686);
mapAxes(688.3,900.7);

function colorBar(top,labels){
  const h=196.7,x=1026.7,w=17.3,bandH=h/colorBands;
  for(let i=0;i<colorBands;i++){
    const c=cmap((i+.5)/colorBands);
    const el=document.createElementNS(NS,'rect');
    el.setAttribute('x',x);
    el.setAttribute('y',(top+h-(i+1)*bandH).toFixed(2));
    el.setAttribute('width',w);
    el.setAttribute('height',(bandH+.3).toFixed(2));
    el.setAttribute('fill','rgb('+Math.round(c[0])+','+Math.round(c[1])+','+Math.round(c[2])+')');
    
    
    document.getElementById('map-bars').appendChild(el);
  }
  const fr=document.createElementNS(NS,'rect');
  fr.setAttribute('x',x);fr.setAttribute('y',top);fr.setAttribute('width',w);fr.setAttribute('height',h);
  fr.setAttribute('fill','none');fr.setAttribute('stroke','#888');fr.setAttribute('stroke-width',.9);
  
  
  document.getElementById('map-bars').appendChild(fr);
  labels.forEach(function(t,i){
    const y=top+h-i/(labels.length-1)*h;
    addTick('map-bars',x+w,y,x+w+2,y,'#555',.5);
    const el=document.createElementNS(NS,'text');
    el.setAttribute('x',1049.5);
    el.setAttribute('y',y+2);
    el.setAttribute('class','cb');
    
    
    el.textContent=t;
    document.getElementById('map-bars').appendChild(el);
  });
}
colorBar(15,barLabelsG1);
colorBar(230,barLabelsG2);
colorBar(475,barLabelsH1);
colorBar(690,barLabelsH2);
</script>
</body>
</html>
